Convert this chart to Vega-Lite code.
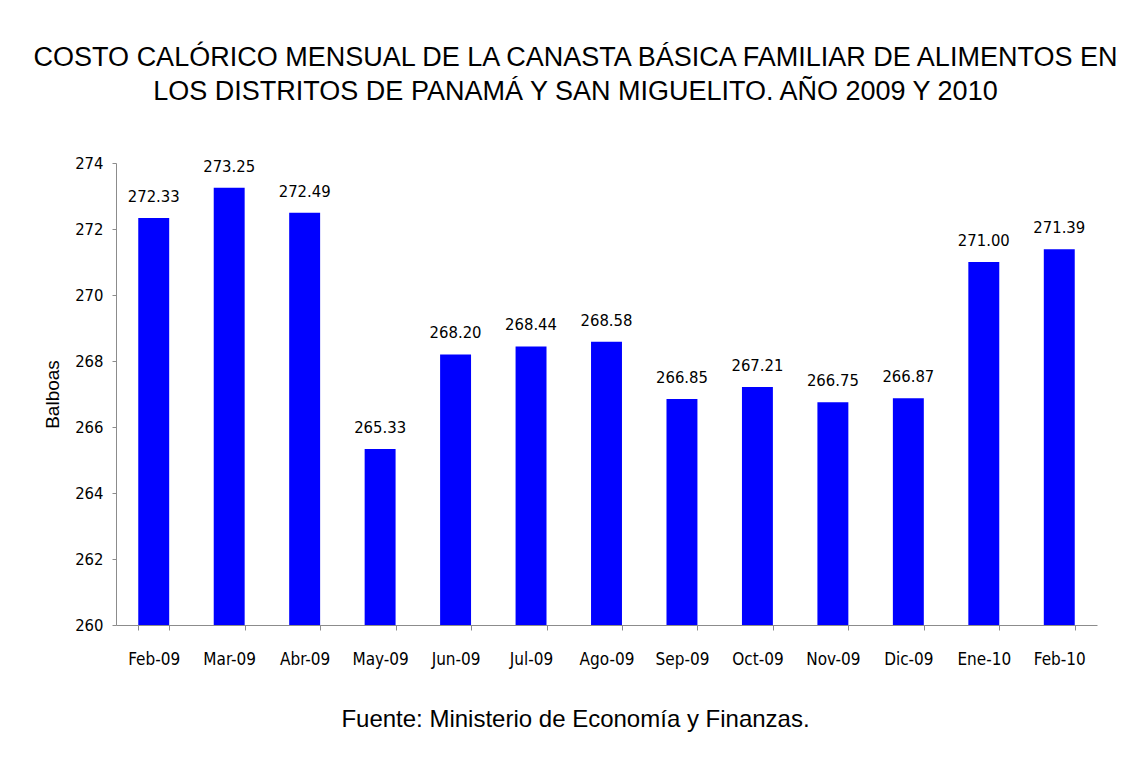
{
  "$schema": "https://vega.github.io/schema/vega-lite/v6.json",
  "autosize": {"type": "none"},
  "width": 981,
  "height": 462,
  "padding": {"left": 116, "top": 163, "right": 38, "bottom": 135},
  "background": "white",
  "config": {"view": {"stroke": null}, "font": "Liberation Sans"},
  "title": {
    "text": ["COSTO CALÓRICO MENSUAL DE LA CANASTA BÁSICA FAMILIAR DE ALIMENTOS EN", "LOS DISTRITOS DE PANAMÁ Y SAN MIGUELITO. AÑO 2009 Y 2010"],
    "font": "Liberation Sans",
    "fontSize": 27,
    "fontWeight": "normal",
    "color": "black",
    "lineHeight": 34,
    "anchor": "middle",
    "dx": -31,
    "offset": 49
  },
  "data": {
    "values": [
      {"mes": "Feb-09", "valor": 272.33},
      {"mes": "Mar-09", "valor": 273.25},
      {"mes": "Abr-09", "valor": 272.49},
      {"mes": "May-09", "valor": 265.33},
      {"mes": "Jun-09", "valor": 268.20},
      {"mes": "Jul-09", "valor": 268.44},
      {"mes": "Ago-09", "valor": 268.58},
      {"mes": "Sep-09", "valor": 266.85},
      {"mes": "Oct-09", "valor": 267.21},
      {"mes": "Nov-09", "valor": 266.75},
      {"mes": "Dic-09", "valor": 266.87},
      {"mes": "Ene-10", "valor": 271.00},
      {"mes": "Feb-10", "valor": 271.39}
    ]
  },
  "encoding": {
    "x": {
      "field": "mes",
      "type": "ordinal",
      "sort": null,
      "scale": {"paddingInner": 0.59, "paddingOuter": 0.295},
      "axis": {
        "title": "Fuente: Ministerio de Economía y Finanzas.",
        "titleFont": "Liberation Sans",
        "titleFontSize": 24,
        "titleFontWeight": "normal",
        "titleColor": "black",
        "titlePadding": 40,
        "titleX": 459,
        "labelAngle": 0,
        "labelFont": "'DejaVu Sans Condensed', 'Liberation Sans'",
        "labelFontSize": 17,
        "labelColor": "black",
        "labelPadding": 21,
        "domainColor": "#8c8c8c",
        "tickColor": "#8c8c8c",
        "tickSize": 5,
        "tickBand": "extent",
        "grid": false
      }
    },
    "y": {
      "field": "valor",
      "type": "quantitative",
      "scale": {"domain": [260, 274], "zero": false},
      "axis": {
        "title": "Balboas",
        "titleFont": "Liberation Sans",
        "titleFontSize": 19,
        "titleFontWeight": "normal",
        "titleColor": "black",
        "titlePadding": 12,
        "values": [260, 262, 264, 266, 268, 270, 272, 274],
        "labelFont": "'DejaVu Sans Condensed', 'Liberation Sans'",
        "labelFontSize": 16.5,
        "labelColor": "black",
        "labelPadding": 9,
        "domainColor": "#8c8c8c",
        "tickColor": "#8c8c8c",
        "tickSize": 4,
        "grid": false
      }
    }
  },
  "layer": [
    {"mark": {"type": "bar", "color": "#0000FF", "clip": true}},
    {
      "mark": {"type": "text", "dy": -21, "font": "'DejaVu Sans Condensed', 'Liberation Sans'", "fontSize": 16.5, "color": "black"},
      "encoding": {"text": {"field": "valor", "type": "quantitative", "format": ".2f"}}
    }
  ]
}
